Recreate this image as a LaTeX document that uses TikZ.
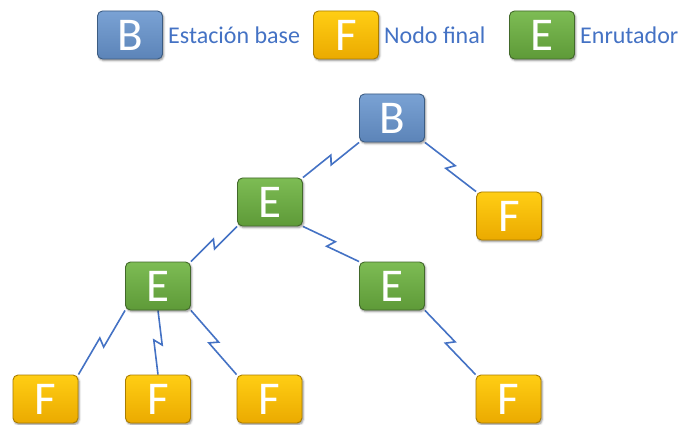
\documentclass[tikz,border=0pt]{standalone}
\usepackage{fontspec}
\setmainfont{Carlito}
\usetikzlibrary{calc,shadows.blur,backgrounds}

\definecolor{linkblue}{HTML}{4472C4}
\definecolor{bTop}{RGB}{122,162,212}
\definecolor{bBot}{RGB}{92,132,184}
\definecolor{bEdge}{RGB}{60,92,130}
\definecolor{fTop}{RGB}{255,206,20}
\definecolor{fBot}{RGB}{235,170,0}
\definecolor{fEdge}{RGB}{170,125,0}
\definecolor{eTop}{RGB}{125,188,84}
\definecolor{eBot}{RGB}{94,154,56}
\definecolor{eEdge}{RGB}{66,105,42}

\tikzset{
  box/.style={rectangle, rounded corners=5pt, minimum width=65pt, minimum height=48pt,
    inner sep=0pt, line width=0.9pt, text=white,
    font=\fontsize{47}{47}\selectfont,
    blur shadow={shadow xshift=1.2pt, shadow yshift=-1.6pt, shadow blur radius=2pt, shadow opacity=45}},
  basebox/.style={box, draw=bEdge, top color=bTop, bottom color=bBot},
  finalbox/.style={box, draw=fEdge, top color=fTop, bottom color=fBot},
  routerbox/.style={box, draw=eEdge, top color=eTop, bottom color=eBot},
  legendtext/.style={anchor=west, inner sep=0pt, text=linkblue,
    font=\fontsize{24}{24}\selectfont},
  link/.style={draw=linkblue, line width=1.6pt, line join=miter}
}

% wireless link: straight line broken by a lightning-style zigzag at its middle
\newcommand\boltlink[2]{%
  \draw[link] (#1)
    -- ($(#1)!0.5!(#2)!2.5pt!(#2)!4.2pt!90:(#2)$)
    -- ($(#1)!0.5!(#2)!2.5pt!(#1)!4.2pt!90:(#1)$)
    -- (#2);}

\begin{document}
\begin{tikzpicture}[x=1pt, y=-1pt]
  \useasboundingbox (0,0) rectangle (678,425);

  % legend
  \node[basebox]   (lb) at (130,35) {B};
  \node[legendtext] (lbt) at (168,35) {Estación base};
  \node[finalbox]  (lf) at (346,35) {F};
  \node[legendtext] (lft) at (384,35) {Nodo final};
  \node[routerbox] (le) at (542,35) {E};
  \node[legendtext] (let) at (580,35) {Enrutador};

  % tree
  \node[basebox]   (B)  at (392,118) {B};
  \node[routerbox] (E1) at (270,202) {E};
  \node[finalbox]  (Fr) at (509,216) {F};
  \node[routerbox] (E2) at (158,286) {E};
  \node[routerbox] (E3) at (392,286) {E};
  \node[finalbox]  (F1) at (45.5,399) {F};
  \node[finalbox]  (F2) at (158,399) {F};
  \node[finalbox]  (F3) at (269.5,399) {F};
  \node[finalbox]  (F4) at (508.5,399) {F};

  \begin{scope}[on background layer]
    \boltlink{B.south west}{E1.north east}
    \boltlink{B.south east}{Fr.north west}
    \boltlink{E1.south west}{E2.north east}
    \boltlink{E1.south east}{E3.north west}
    \boltlink{E2.south west}{F1.north east}
    \boltlink{E2.south}{F2.north}
    \boltlink{E2.south east}{F3.north west}
    \boltlink{E3.south east}{F4.north west}
  \end{scope}
\end{tikzpicture}
\end{document}
